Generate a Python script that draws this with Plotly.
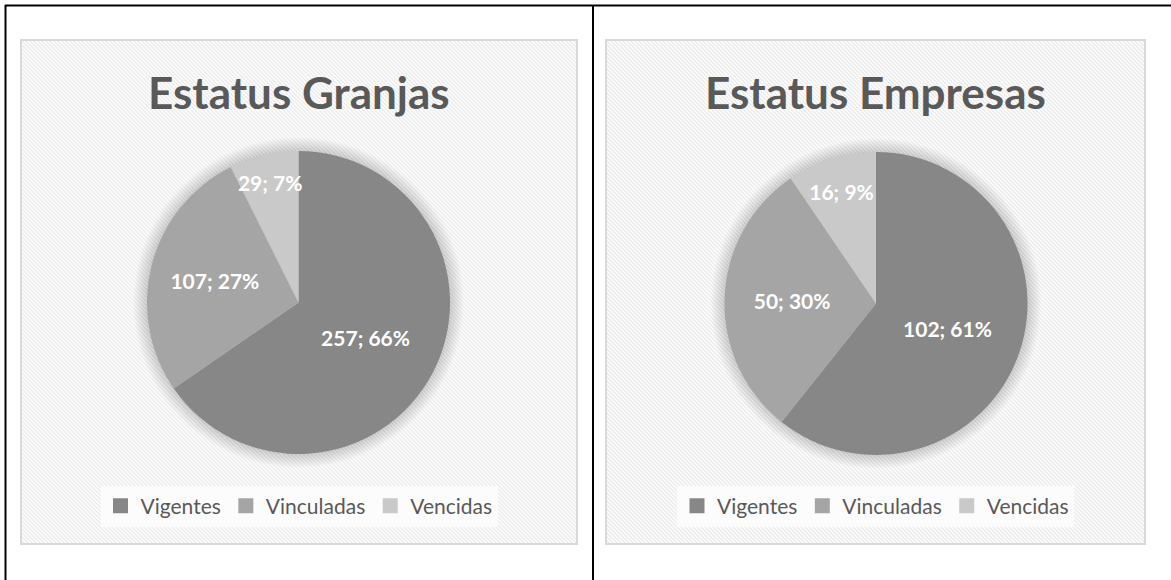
import base64
import plotly.graph_objects as go

# ---- data -------------------------------------------------------------
estados = ["Vigentes", "Vinculadas", "Vencidas"]
granjas_valores = [257, 107, 29]
granjas_pct = [66, 27, 7]
empresas_valores = [102, 50, 16]
empresas_pct = [61, 30, 9]
titulos = ["Estatus Granjas", "Estatus Empresas"]

# ---- styling ----------------------------------------------------------
W, H = 1171, 580
colores = ["#878787", "#a5a5a5", "#c9c9c9"]
texto_gris = "#595959"
FONT = "Lato"


def px(x):
    return x / W


def py(y):
    return 1 - y / H


# chart frames (pixel boxes: left, top, right, bottom)
marcos = [(21, 40, 577, 544), (606, 40, 1145, 544)]
# pie centre and radius in pixels
tortas = [(298.5, 302.5, 151.5), (876, 303.5, 151.5)]


def hatch_svg(w, h):
    svg = (
        f'<svg xmlns="http://www.w3.org/2000/svg" width="{w}" height="{h}" '
        f'viewBox="0 0 {w} {h}">'
        '<defs><pattern id="p" width="4" height="4" patternUnits="userSpaceOnUse">'
        '<rect width="4" height="4" fill="#ffffff"/>'
        '<path d="M-1,-1 L5,5 M3,-1 L5,1 M-1,3 L1,5" stroke="#ebebeb" stroke-width="1.5"/>'
        '</pattern></defs>'
        f'<rect width="{w}" height="{h}" fill="url(#p)"/></svg>'
    )
    return "data:image/svg+xml;base64," + base64.b64encode(svg.encode()).decode()


fig = go.Figure()

series = [(granjas_valores, granjas_pct), (empresas_valores, empresas_pct)]
for i, ((vals, pct), (cx, cy, r)) in enumerate(zip(series, tortas)):
    fig.add_trace(
        go.Pie(
            labels=estados,
            values=vals,
            customdata=pct,
            texttemplate="%{value}; %{customdata}%",
            textposition="inside",
            insidetextorientation="horizontal",
            insidetextfont=dict(family=FONT, size=21, color="white", weight="bold"),
            sort=False,
            direction="clockwise",
            rotation=0,
            marker=dict(colors=colores, line=dict(width=0)),
            domain=dict(x=[px(cx - r), px(cx + r)], y=[py(cy + r), py(cy - r)]),
            hoverinfo="label+value+percent",
            showlegend=False,
        )
    )
    # legend entries for this chart
    for nombre, color in zip(estados, colores):
        fig.add_trace(
            go.Scatter(
                x=[None], y=[None], mode="markers", name=nombre,
                marker=dict(symbol="square", size=15, color=color),
                legend="legend" if i == 0 else "legend2",
                hoverinfo="skip",
            )
        )

shapes = []
images = []
annotations = []

for (x0, y0, x1, y1), titulo in zip(marcos, titulos):
    images.append(
        dict(
            source=hatch_svg(x1 - x0, y1 - y0),
            xref="paper", yref="paper",
            x=px(x0), y=py(y0),
            sizex=px(x1) - px(x0), sizey=py(y0) - py(y1),
            xanchor="left", yanchor="top",
            sizing="stretch", layer="below",
        )
    )
    shapes.append(
        dict(type="rect", xref="paper", yref="paper",
             x0=px(x0), x1=px(x1), y0=py(y1), y1=py(y0),
             line=dict(color="#d9d9d9", width=2), layer="below")
    )
    annotations.append(
        dict(text=titulo, xref="paper", yref="paper",
             x=px((x0 + x1) / 2), y=py(92), xanchor="center", yanchor="middle",
             showarrow=False,
             font=dict(family=FONT, size=44, color=texto_gris, weight="bold"))
    )

# soft shadow around each pie
for cx, cy, r in tortas:
    for k in range(14, 0, -1):
        rr = r + k
        shapes.append(
            dict(type="circle", xref="paper", yref="paper",
                 x0=px(cx - rr), x1=px(cx + rr), y0=py(cy + rr), y1=py(cy - rr),
                 fillcolor="rgba(0,0,0,0.01)", line=dict(width=0), layer="below")
        )

# table rules
negro = dict(color="black", width=2)
shapes += [
    dict(type="line", xref="paper", yref="paper", x0=px(5), x1=1, y0=py(5.5), y1=py(5.5), line=negro),
    dict(type="line", xref="paper", yref="paper", x0=px(5.5), x1=px(5.5), y0=0, y1=py(5), line=negro),
    dict(type="line", xref="paper", yref="paper", x0=px(593), x1=px(593), y0=0, y1=py(5), line=negro),
]

leyenda = dict(
    orientation="h", xanchor="center", yanchor="middle", y=py(506),
    font=dict(family=FONT, size=21, color=texto_gris),
    bgcolor="rgba(252,252,252,0.95)", itemclick=False, itemdoubleclick=False,
)

fig.update_layout(
    width=W, height=H,
    margin=dict(l=0, r=0, t=0, b=0),
    paper_bgcolor="white",
    plot_bgcolor="rgba(0,0,0,0)",
    xaxis=dict(visible=False, fixedrange=True),
    yaxis=dict(visible=False, fixedrange=True),
    uniformtext=dict(minsize=21, mode="show"),
    shapes=shapes,
    images=images,
    annotations=annotations,
    legend=dict(leyenda, x=px(299)),
    legend2=dict(leyenda, x=px(875.5)),
)

fig.write_html("out.html")
